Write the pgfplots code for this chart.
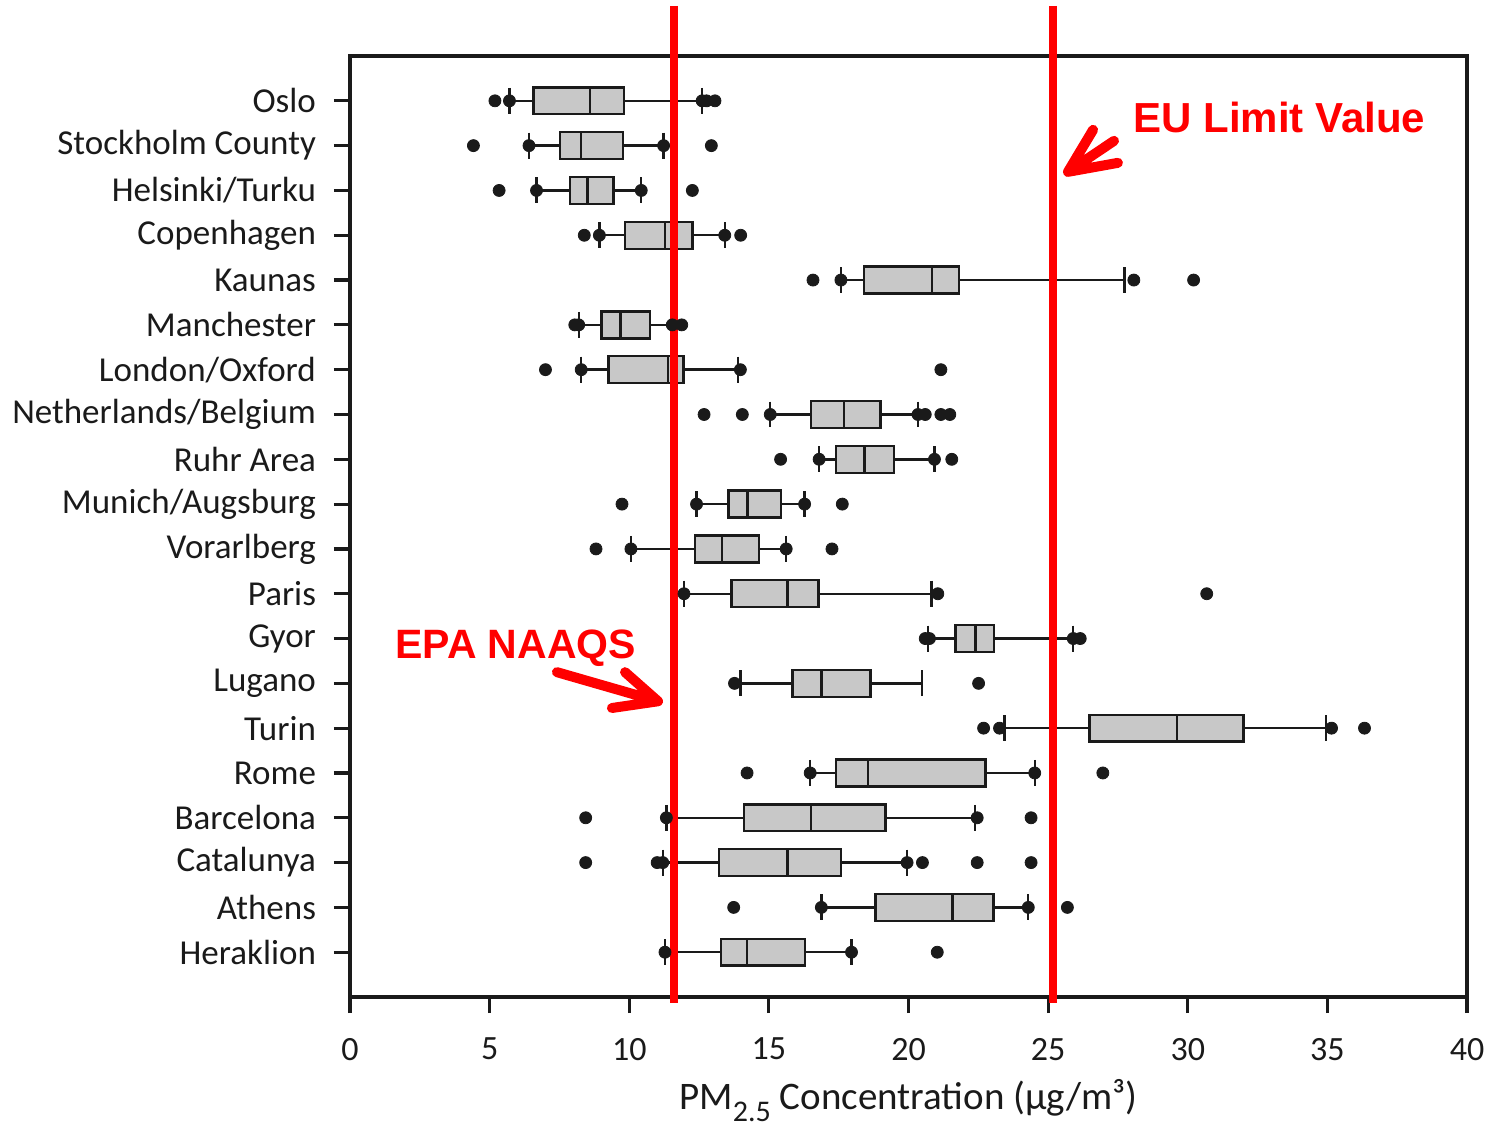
\documentclass[border=0pt]{standalone}
\usepackage{fontspec}
\setmainfont{Carlito}
\newfontfamily\arialb{Liberation Sans}
\usepackage{pgfplots}
\pgfplotsset{compat=1.18}
\usepgfplotslibrary{statistics}
\definecolor{boxgray}{HTML}{C8C8C8}
\definecolor{ink}{HTML}{1A1A1A}
\definecolor{eured}{HTML}{FF0000}
\pgfplotsset{mybox/.style={boxplot/draw direction=x, boxplot/box extend=0.6,
  boxplot/whisker extend=0.58, draw=ink, fill=boxgray, line width=1.2pt, solid}}
\newcommand{\bx}[6]{\addplot[mybox, boxplot prepared={draw position=#1, lower whisker=#2, lower quartile=#3, median=#4, upper quartile=#5, upper whisker=#6}] coordinates {};}
\begin{document}
\begin{tikzpicture}
\begin{axis}[name=ax,
  scale only axis, width=558.5pt, height=470.5pt,
  xmin=0, xmax=40, ymin=0, ymax=21, y dir=reverse,
  clip=false,
  xtick={0,5,...,40}, ytick={1,...,20},
  yticklabels={Oslo,Stockholm County,Helsinki/Turku,Copenhagen,Kaunas,Manchester,London/Oxford,Netherlands/Belgium,Ruhr Area,Munich/Augsburg,Vorarlberg,Paris,Gyor,Lugano,Turin,Rome,Barcelona,Catalunya,Athens,Heraklion},
  xtick pos=bottom, ytick pos=left, tick align=outside,
  major tick length=8pt,
  tick style={line width=1.6pt, ink},
  axis line style={line width=2pt, ink},
  /pgf/number format/assume math mode=true,
  tick label style={font=\fontsize{17}{20}\selectfont, text=ink},
  yticklabel style={font=\fontsize{17.5}{20}\selectfont, xshift=-5.5pt},
  xticklabel style={yshift=-9pt},
  xlabel={PM\raisebox{-6pt}{\fontsize{15}{15}\selectfont 2.5} Concentration (µg/m³)},
  xlabel style={font=\fontsize{19.5}{22}\selectfont, text=ink, yshift=-2.5pt},
]
\bx{1}{5.71}{6.57}{8.59}{9.81}{12.61}
\bx{2}{6.41}{7.53}{8.28}{9.78}{11.23}
\bx{3}{6.68}{7.88}{8.50}{9.44}{10.43}
\bx{4}{8.93}{9.84}{11.28}{12.27}{13.42}
\bx{5}{17.58}{18.40}{20.84}{21.80}{27.73}
\bx{6}{8.19}{9.01}{9.69}{10.74}{11.54}
\bx{7}{8.28}{9.26}{11.38}{11.95}{13.89}
\bx{8}{15.05}{16.51}{17.70}{19.00}{20.34}
\bx{9}{16.80}{17.40}{18.42}{19.49}{20.93}
\bx{10}{12.41}{13.55}{14.23}{15.44}{16.28}
\bx{11}{10.06}{12.36}{13.32}{14.64}{15.62}
\bx{12}{11.96}{13.66}{15.67}{16.78}{20.83}
\bx{13}{20.70}{21.68}{22.40}{23.06}{25.90}
\bx{14}{13.99}{15.85}{16.88}{18.64}{20.48}
\bx{15}{23.44}{26.48}{29.62}{31.99}{34.95}
\bx{16}{16.48}{17.41}{18.56}{22.76}{24.52}
\bx{17}{11.33}{14.12}{16.50}{19.17}{22.38}
\bx{18}{11.20}{13.21}{15.67}{17.58}{19.95}
\bx{19}{16.88}{18.82}{21.58}{23.04}{24.29}
\bx{20}{11.28}{13.28}{14.22}{16.30}{17.96}
\addplot[only marks, mark=*, mark size=3pt, mark options={fill=ink, draw=ink}] coordinates {
(5.19,1) (5.71,1) (12.61,1) (12.77,1) (13.07,1)
(4.42,2) (6.41,2) (11.23,2) (12.94,2)
(5.34,3) (6.68,3) (10.43,3) (12.26,3)
(8.39,4) (8.93,4) (13.42,4) (13.99,4)
(16.58,5) (17.58,5) (28.07,5) (30.21,5)
(8.05,6) (8.19,6) (11.54,6) (11.88,6)
(7.00,7) (8.28,7) (13.98,7) (21.16,7)
(12.68,8) (14.05,8) (15.05,8) (20.34,8) (20.60,8) (21.16,8) (21.48,8)
(15.42,9) (16.80,9) (20.93,9) (21.55,9)
(9.74,10) (12.41,10) (16.28,10) (17.63,10)
(8.81,11) (10.06,11) (15.62,11) (17.26,11)
(11.96,12) (21.05,12) (30.68,12)
(20.60,13) (20.75,13) (25.90,13) (26.15,13)
(13.77,14) (22.51,14)
(22.69,15) (23.26,15) (35.15,15) (36.33,15)
(14.22,16) (16.48,16) (24.52,16) (26.96,16)
(8.44,17) (11.33,17) (22.46,17) (24.39,17)
(8.44,18) (11.00,18) (11.20,18) (19.95,18) (20.50,18) (22.46,18) (24.39,18)
(13.74,19) (16.88,19) (24.29,19) (25.69,19)
(11.28,20) (17.96,20) (21.03,20)
};
\addplot[eured, line width=4pt] coordinates {(11.6,-1.12) (11.6,21.13)};
\addplot[eured, line width=4pt] coordinates {(25.16,-1.12) (25.16,21.13)};
% arrows
\draw[eured, line width=5pt, line cap=round, line join=round]
  (axis cs:7.41,13.75) -- (axis cs:11.03,14.40)
  (axis cs:9.85,13.75) -- (axis cs:11.03,14.40) -- (axis cs:9.38,14.55);
\draw[eured, line width=5pt, line cap=round, line join=round]
  (axis cs:27.36,1.893) -- (axis cs:25.71,2.585)
  (axis cs:26.61,1.647) -- (axis cs:25.71,2.585) -- (axis cs:27.50,2.384);
\node[anchor=base west, inner sep=0pt, text=eured, font=\arialb\bfseries\fontsize{21}{24}\selectfont] at (axis cs:28.04,1.714) {EU Limit Value};
\node[anchor=base west, inner sep=0pt, text=eured, font=\arialb\bfseries\fontsize{20.5}{24}\selectfont] at (axis cs:1.61,13.44) {EPA NAAQS};
\end{axis}
\pgfresetboundingbox
\path ([shift={(-175pt,-67.5pt)}]ax.south west) rectangle ([shift={(569.5pt,498.5pt)}]ax.south west);
\end{tikzpicture}
\end{document}
